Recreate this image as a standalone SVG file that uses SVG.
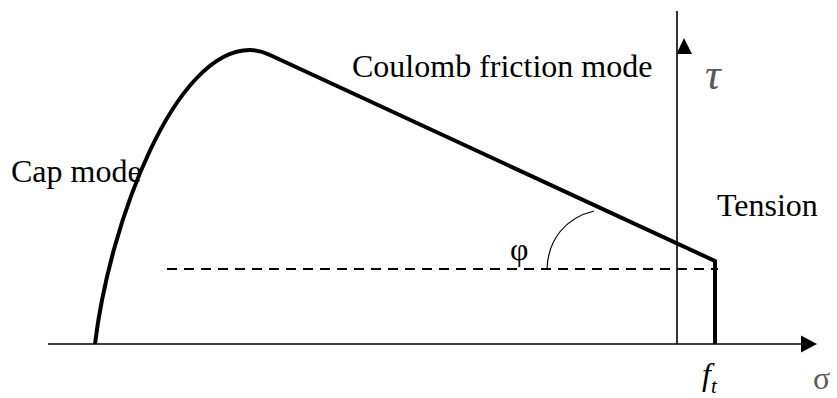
<svg xmlns="http://www.w3.org/2000/svg" width="837" height="398" viewBox="0 0 837 398">
<style>
.t{font-family:"Liberation Serif","Times New Roman",serif;font-size:32px;fill:#000}
.g{font-family:"Liberation Serif","Times New Roman",serif;fill:#595959}
.ax{stroke:#000;stroke-width:1.6;fill:none}
.thick{stroke:#000;stroke-width:4;fill:none;stroke-linejoin:miter}
</style>
<rect width="837" height="398" fill="#fff"/>
<g id="connectors">
<g id="sigma-axis"><line class="ax" x1="48" y1="344" x2="804" y2="344"/><polygon points="817,344 801,335.5 801,352.5" fill="#000"/></g>
<g id="tau-axis"><line class="ax" x1="677" y1="11" x2="677" y2="344"/><polygon points="684,38 676.5,54 692,54" fill="#000"/></g>
<line id="dashed" x1="167" y1="269" x2="718" y2="269" stroke="#000" stroke-width="2" stroke-dasharray="10 7"/>
<path id="angle-arc" d="M547,269 C548,240 565,218 594,211" fill="none" stroke="#000" stroke-width="1.2"/>
<path id="yield-surface" class="thick" d="M95,344 C110,220 175,50 250,50 C256,50 261,50.5 270,55 L715,261 L715,344"/>
</g>
<g id="label-cap"><text class="t" x="11" y="182">Cap mode</text></g>
<g id="label-coulomb"><text class="t" x="352" y="77">Coulomb friction mode</text></g>
<g id="label-tension"><text class="t" x="717" y="216">Tension</text></g>
<g id="label-phi"><text class="t" x="510" y="260" font-size="30">φ</text></g>
<g id="label-tau"><text class="g" x="705" y="89" font-size="44" font-style="italic">τ</text></g>
<g id="label-ft"><text class="t" x="702" y="385" font-style="italic">f<tspan font-size="21" y="393">t</tspan></text></g>
<g id="label-sigma"><text class="g" x="813" y="389" font-size="32">σ</text></g>
</svg>
